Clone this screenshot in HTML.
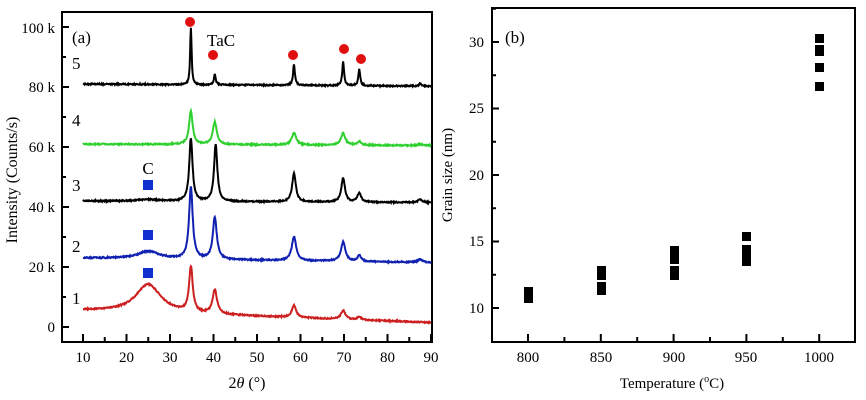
<!DOCTYPE html>
<html><head><meta charset="utf-8"><style>
body{margin:0;background:#fff}
svg{display:block;font-family:"Liberation Serif",serif}
</style></head><body>
<svg id="s" width="866" height="400" viewBox="0 0 866 400" xmlns="http://www.w3.org/2000/svg">
<rect x="62" y="12" width="370" height="330" fill="none" stroke="#000" stroke-width="2"/>
<rect x="492" y="8" width="363" height="334" fill="none" stroke="#000" stroke-width="2"/>
<g id="L"></g>
<g font-size="15" text-anchor="end">
<text x="55" y="332">0</text><text x="55" y="272">20 k</text><text x="55" y="212">40 k</text>
<text x="55" y="152">60 k</text><text x="55" y="92">80 k</text><text x="55" y="33">100 k</text>
</g>
<g font-size="15" text-anchor="middle" id="xl"></g>
<text transform="translate(17,180) rotate(-90)" font-size="16" text-anchor="middle">Intensity (Counts/s)</text>
<text x="247" y="388" font-size="16" text-anchor="middle">2<tspan font-style="italic">θ</tspan> (°)</text>
<g font-size="17">
<text x="72" y="43">(a)</text><text x="207" y="46">TaC</text><text x="148" y="174" text-anchor="middle">C</text>
<text x="72" y="304">1</text><text x="72" y="252">2</text><text x="72" y="191">3</text>
<text x="72" y="126">4</text><text x="72" y="69">5</text>
</g>
<g fill="#e01010">
<circle cx="190" cy="22" r="5"/><circle cx="213" cy="55" r="5"/><circle cx="293" cy="55" r="5"/>
<circle cx="344" cy="49" r="5"/><circle cx="361" cy="59" r="5"/>
</g>
<g fill="#1030d0">
<rect x="143" y="180" width="10" height="10"/><rect x="143" y="230" width="10" height="10"/><rect x="143" y="268" width="10" height="10"/>
</g>
<g font-size="15" text-anchor="end">
<text x="484" y="313">10</text><text x="484" y="246">15</text><text x="484" y="180">20</text>
<text x="484" y="113">25</text><text x="484" y="47">30</text>
</g>
<g font-size="15" text-anchor="middle">
<text x="528" y="362">800</text><text x="601" y="362">850</text><text x="674" y="362">900</text><text x="746" y="362">950</text><text x="819" y="362">1000</text>
</g>
<text transform="translate(452,175) rotate(-90)" font-size="15" text-anchor="middle">Grain size (nm)</text>
<text x="672" y="388" font-size="15" text-anchor="middle">Temperature (<tspan font-size="10" dy="-6">o</tspan><tspan dy="6">C)</tspan></text>
<text x="505" y="43" font-size="17">(b)</text>
<g fill="#000">
<rect x="524" y="287" width="9" height="16"/>
<rect x="597" y="266" width="9" height="14"/><rect x="597" y="282" width="9" height="13"/>
<rect x="670" y="246" width="9" height="18"/><rect x="670" y="266" width="9" height="14"/>
<rect x="742" y="232" width="9" height="9"/><rect x="742" y="245" width="9" height="21"/>
<rect x="815" y="34" width="9" height="9"/><rect x="815" y="45" width="9" height="11"/>
<rect x="815" y="63" width="9" height="9"/><rect x="815" y="82" width="9" height="9"/>
</g>
<g id="R" stroke="#000" stroke-width="2"></g>
</svg>
<script>
var NS="http://www.w3.org/2000/svg",L=document.getElementById('L'),R=document.getElementById('R'),xl=document.getElementById('xl');
function X(v){return 83+(v-10)*4.35}function Y(k){return 327-k*3}
function el(p,n,a){var e=document.createElementNS(NS,n);for(var k in a)e.setAttribute(k,a[k]);p.appendChild(e);return e}
for(var v=10;v<=90;v+=5){var x=X(v);el(L,'line',{x1:x,x2:x,y1:342,y2:v%10?337:334,stroke:'#000','stroke-width':2});
if(v%10==0){var t=el(xl,'text',{x:x,y:362});t.textContent=v;}}
for(var k=0;k<=100;k+=10){el(L,'line',{x1:62,x2:k%20?66:69,y1:Y(k),y2:Y(k),stroke:'#000','stroke-width':2});}
for(var i=0;i<9;i++){var x=528+i*36.4;el(R,'line',{x1:x,x2:x,y1:342,y2:i%2?337:334});}
for(var v=10;v<=32.5;v+=2.5){var y=308-(v-10)*13.3;el(R,'line',{x1:492,x2:v%5?496:499,y1:y,y2:y});}
function lor(x,c,w){return 1/(1+Math.pow((x-c)/w,2))}
var S=[
{col:'#cc2020',b0:5.5,b1:1.5,hump:[25,9.5,3.5],pk:[[34.8,15,.5],[40.3,8,.6],[58.5,4,.6],[69.8,3,.6],[73.5,1,.5]]},
{col:'#1020b0',b0:23,b1:21.5,hump:[25,2.5,3],pk:[[34.8,24,.5],[40.3,14,.55],[58.5,8,.6],[69.8,6.5,.6],[73.5,2,.5],[87.5,1,.6]]},
{col:'#000',b0:42,b1:41.5,hump:[25,.6,3],pk:[[34.8,21,.45],[40.5,19,.45],[58.5,9.5,.5],[69.8,8,.5],[73.5,3,.5],[87.5,1,.6]]},
{col:'#30d030',b0:61,b1:60.5,hump:[25,0,3],pk:[[34.8,11,.5],[40.3,7.5,.55],[58.5,4,.6],[69.8,4,.6],[73.5,1.2,.5],[87.5,.4,.6]]},
{col:'#000',b0:81,b1:80.3,hump:[25,0,3],pk:[[34.8,19,.2],[40.3,3.5,.25],[58.5,7,.25],[69.8,8,.25],[73.5,5.5,.25],[87.5,.8,.3]]}];
S.forEach(function(s){var d='';for(var x=10;x<=90;x+=0.1){var y=s.b0+(s.b1-s.b0)*(x-10)/80+s.hump[1]*lor(x,s.hump[0],s.hump[2]);
s.pk.forEach(function(p){y+=p[1]*lor(x,p[0],p[2])});y+=(Math.random()-.5)*0.4;
d+=(d?'L':'M')+X(x).toFixed(1)+','+Y(y).toFixed(1);}
el(L,'path',{d:d,fill:'none',stroke:s.col,'stroke-width':2});});
</script>
</body></html>
